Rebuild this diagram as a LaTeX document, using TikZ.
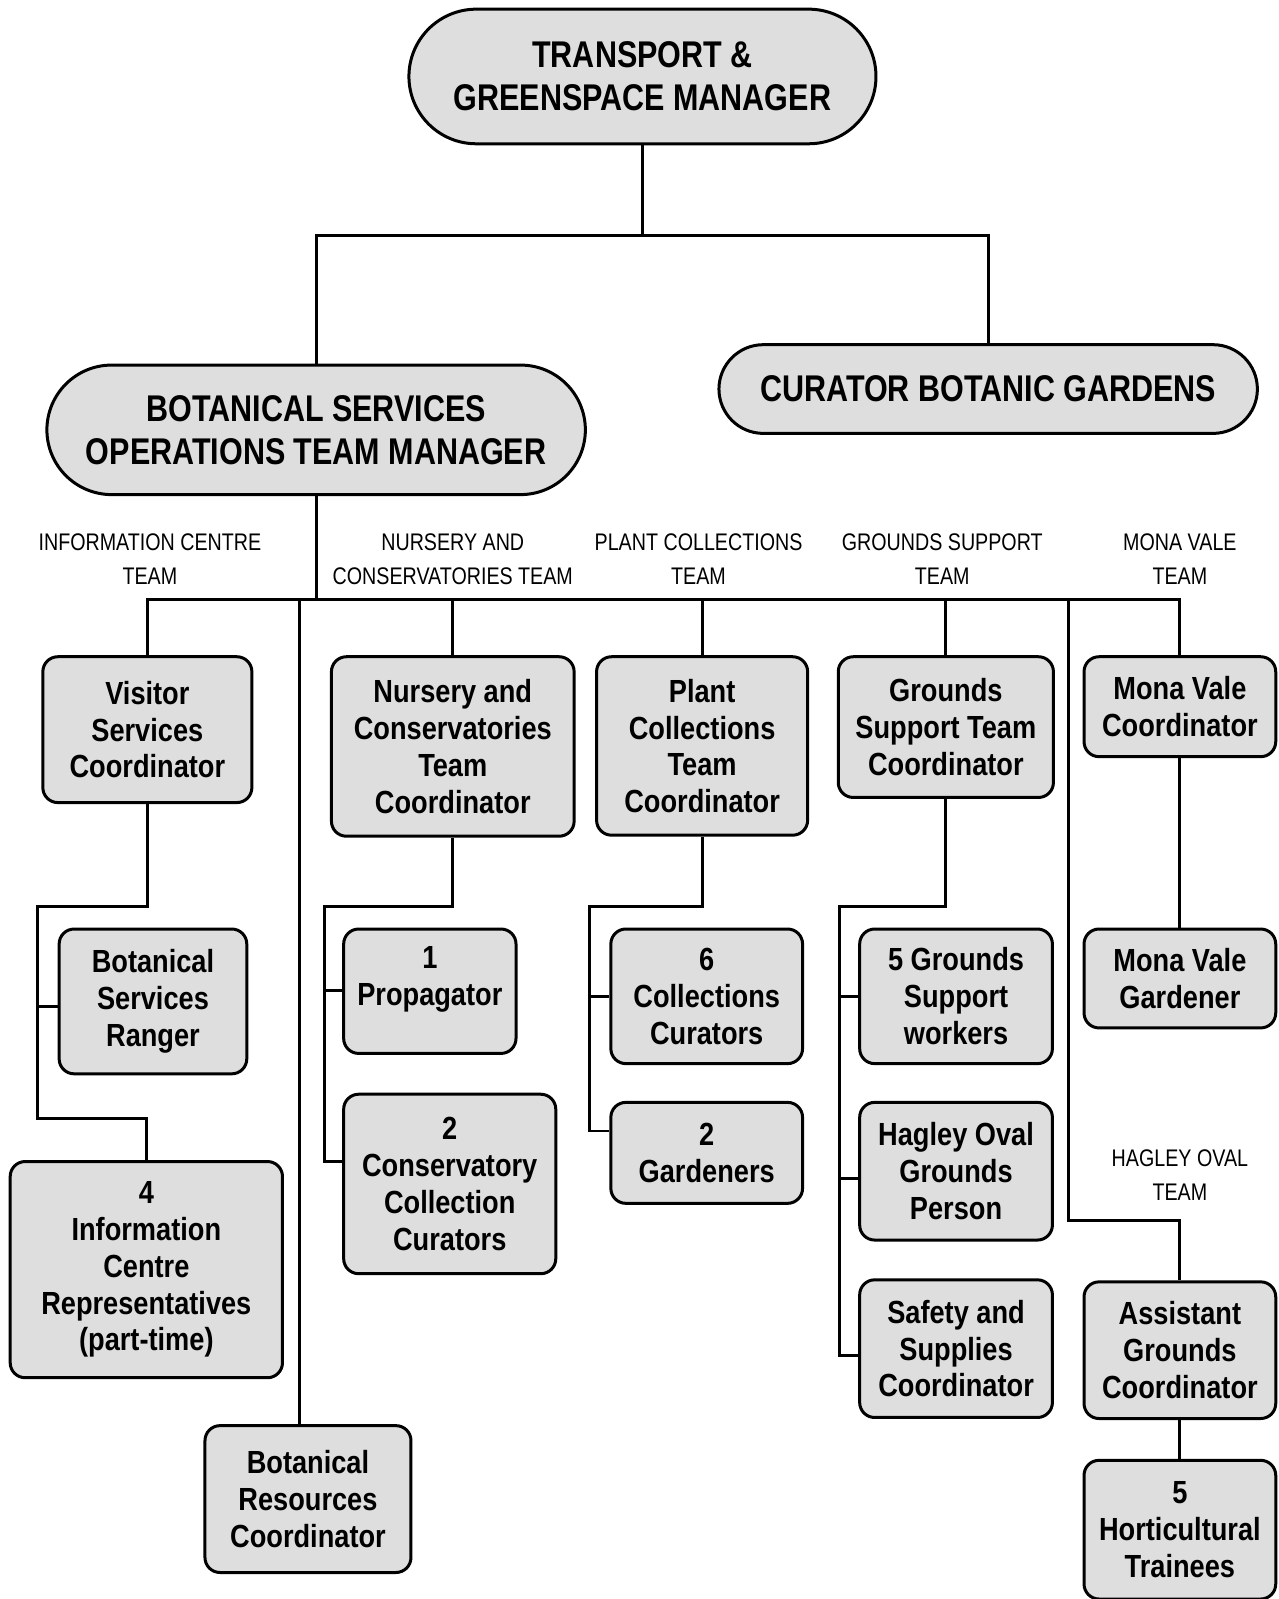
\documentclass[tikz,border=0pt]{standalone}
\usepackage{fontspec}
\setmainfont{Liberation Sans}
\newfontfamily\narrowFont{Liberation Sans}[FakeStretch=0.82]
\newfontfamily\boxFont{Liberation Sans}[FakeStretch=0.85]
\usetikzlibrary{shapes.misc}
\definecolor{boxGrey}{RGB}{222,222,222}
\tikzstyle{manager} = [rounded rectangle, draw = black, fill = boxGrey, line width = 1.5pt, align = center, inner sep = 0pt, font = \narrowFont\bfseries\fontsize{18.6}{21.5}\selectfont]
\tikzstyle{role} = [rectangle, rounded corners = 7.5pt, draw = black, fill = boxGrey, line width = 1.5pt, align = center, inner sep = 0pt, font = \boxFont\bfseries\fontsize{16}{18.4}\selectfont]
\tikzstyle{team} = [align = center, inner sep = 0pt, font = \narrowFont\fontsize{12}{16.9}\selectfont]
\tikzstyle{link} = [line width = 1.4pt]
\tikzset{boxSize/.style 2 args = {minimum width = #1*0.51pt, minimum height = #2*0.51pt}}

\begin{document}
\begin{tikzpicture}[x = 0.51pt, y = -0.51pt]
    \useasboundingbox (0,0) rectangle (1254,1568);

    % managers
    \node (transportMgr) [manager, boxSize = {458}{132}] at (630,75) {TRANSPORT \&\\GREENSPACE MANAGER};
    \node (curator) [manager, boxSize = {528}{87}] at (969,381.5) {CURATOR BOTANIC GARDENS};
    \node (opsMgr) [manager, boxSize = {528}{127}] at (310,421.5) {BOTANICAL SERVICES\\OPERATIONS TEAM MANAGER};

    % team headings
    \node (infoTeam) [team] at (147,548.5) {INFORMATION CENTRE\\TEAM};
    \node (nurseryTeam) [team] at (444,548.5) {NURSERY AND\\CONSERVATORIES TEAM};
    \node (plantTeam) [team] at (685,548.5) {PLANT COLLECTIONS\\TEAM};
    \node (groundsTeam) [team] at (924,548.5) {GROUNDS SUPPORT\\TEAM};
    \node (monaTeam) [team] at (1157,548.5) {MONA VALE\\TEAM};
    \node (hagleyTeam) [team] at (1157,1152.5) {HAGLEY OVAL\\TEAM};

    % information centre
    \node (visitor) [role, boxSize = {205}{143}] at (144.5,715.5) {Visitor\\Services\\Coordinator};
    \node (ranger) [role, boxSize = {184}{142}] at (150,982) {Botanical\\Services\\Ranger};
    \node (infoReps) [role, boxSize = {267}{212}] at (143.5,1245) {4\\Information\\Centre\\Representatives\\(part-time)};
    \node (resources) [role, boxSize = {202}{144}] at (302,1470) {Botanical\\Resources\\Coordinator};

    % nursery
    \node (nursery) [role, boxSize = {238}{176}] at (444,732) {Nursery and\\Conservatories\\Team\\Coordinator};
    \node (propagator) [role, boxSize = {169}{122}] at (421.5,972) {1\\Propagator\\[-3pt]\mbox{}};
    \node (conservatory) [role, boxSize = {208}{176}] at (441,1161) {2\\Conservatory\\Collection\\Curators};

    % plant collections
    \node (plantCoord) [role, boxSize = {207}{175}] at (688.5,731.5) {Plant\\Collections\\Team\\Coordinator};
    \node (curators) [role, boxSize = {188}{132}] at (693,977) {6\\Collections\\Curators};
    \node (gardeners) [role, boxSize = {188}{99}] at (693,1130.5) {2\\Gardeners};

    % grounds support
    \node (groundsCoord) [role, boxSize = {211}{138}] at (927.5,713) {Grounds\\Support Team\\Coordinator};
    \node (groundsWorkers) [role, boxSize = {189}{132}] at (937.5,977) {5 Grounds\\Support\\workers};
    \node (hagleyPerson) [role, boxSize = {189}{135}] at (937.5,1148.5) {Hagley Oval\\Grounds\\Person};
    \node (safety) [role, boxSize = {189}{135}] at (937.5,1322.5) {Safety and\\Supplies\\Coordinator};

    % mona vale and hagley oval
    \node (monaCoord) [role, boxSize = {188}{98}] at (1157,693) {Mona Vale\\Coordinator};
    \node (monaGardener) [role, boxSize = {188}{97}] at (1157,959.5) {Mona Vale\\Gardener};
    \node (assistant) [role, boxSize = {188}{134}] at (1157,1324) {Assistant\\Grounds\\Coordinator};
    \node (trainees) [role, boxSize = {188}{136}] at (1157,1500) {5\\Horticultural\\Trainees};

    \coordinate (split) at (630,231);
    \coordinate (bus) at (310,588);
    \coordinate (resTap) at (294,588);
    \coordinate (hagTap) at (1048,588);
    \coordinate (hagTurn) at (1048,1197);
    \coordinate (infoElbow) at (37,889);
    \coordinate (infoRangerTap) at (37,987);
    \coordinate (infoFoot) at (37,1097);
    \coordinate (nurseryElbow) at (318,889);
    \coordinate (nurseryPropTap) at (318,971);
    \coordinate (nurseryFoot) at (318,1139);
    \coordinate (plantElbow) at (578,889);
    \coordinate (plantCurTap) at (578,977);
    \coordinate (plantFoot) at (578,1109);
    \coordinate (groundsElbow) at (823,889);
    \coordinate (groundsWorkTap) at (823,977);
    \coordinate (groundsHagTap) at (823,1156);
    \coordinate (groundsFoot) at (823,1329);

    \draw [link] (transportMgr.south) -- (split);
    \draw [link] (opsMgr.north) -- (opsMgr.north |- split) -- (curator.north |- split) -- (curator.north);
    \draw [link] (opsMgr.south) -- (bus);
    \draw [link] (visitor.north) -- (visitor.north |- bus) -- (monaCoord.north |- bus) -- (monaCoord.north);
    \draw [link] (nursery.north) -- (nursery.north |- bus);
    \draw [link] (plantCoord.north) -- (plantCoord.north |- bus);
    \draw [link] (groundsCoord.north) -- (groundsCoord.north |- bus);
    \draw [link] (resTap) -- (resTap |- resources.north);
    \draw [link] (hagTap) -- (hagTurn) -| (assistant.north);

    \draw [link] (visitor.south) |- (infoElbow) -- (infoFoot) -| (infoReps.north);
    \draw [link] (infoRangerTap) -- (infoRangerTap -| ranger.west);
    \draw [link] (nursery.south) |- (nurseryElbow) -- (nurseryFoot) -- (nurseryFoot -| conservatory.west);
    \draw [link] (nurseryPropTap) -- (nurseryPropTap -| propagator.west);
    \draw [link] (plantCoord.south) |- (plantElbow) -- (plantFoot) -- (plantFoot -| gardeners.west);
    \draw [link] (plantCurTap) -- (plantCurTap -| curators.west);
    \draw [link] (groundsCoord.south) |- (groundsElbow) -- (groundsFoot) -- (groundsFoot -| safety.west);
    \draw [link] (groundsWorkTap) -- (groundsWorkTap -| groundsWorkers.west);
    \draw [link] (groundsHagTap) -- (groundsHagTap -| hagleyPerson.west);
    \draw [link] (monaCoord.south) -- (monaGardener.north);
    \draw [link] (assistant.south) -- (trainees.north);
\end{tikzpicture}
\end{document}
